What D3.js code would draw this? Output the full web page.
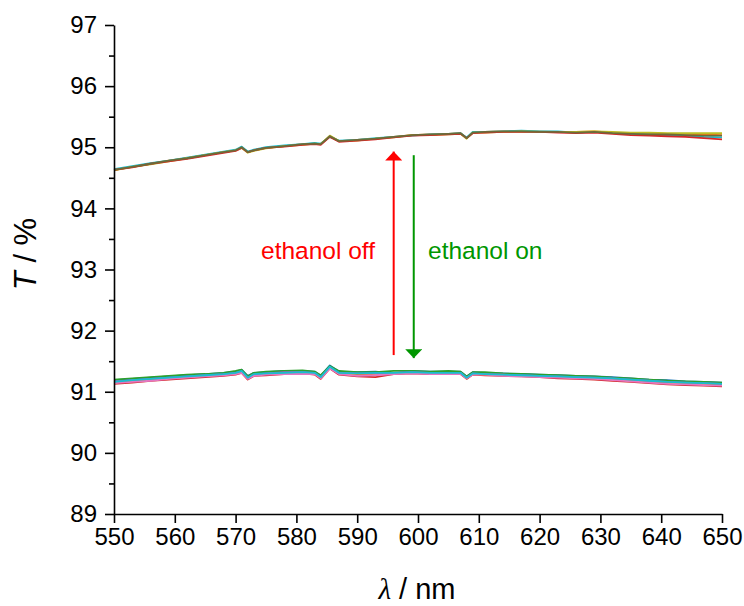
<!DOCTYPE html>
<html lang="en">
<head>
<meta charset="UTF-8">
<script src="https://d3js.org/d3.v7.min.js"></script>
<style>
  body { margin: 0; background: #fff; }
  svg { display: block; font-family: "Liberation Sans", Arial, sans-serif; }
</style>
</head>
<body>
<div id="chart"></div>
<script>
// wavelengths (nm)
const wl = [550,553,556,559,562,565,568,570,571,572,573,575,578,581,583,584,585.5,587,590,593,596,599,602,605,607,608,609,611,614,617,620,623,626,629,632,635,638,641,644,647,650];

// ethanol off (upper group), transmittance %
const up1 = [94.63,94.68,94.73,94.78,94.82,94.87,94.92,94.95,95.00,94.92,94.95,94.99,95.02,95.05,95.06,95.05,95.18,95.10,95.12,95.14,95.17,95.20,95.21,95.22,95.23,95.15,95.24,95.25,95.26,95.26,95.26,95.25,95.25,95.26,95.24,95.23,95.23,95.22,95.22,95.21,95.20];
const up2 = [94.64,94.69,94.74,94.78,94.83,94.88,94.93,94.96,95.01,94.93,94.96,95.00,95.03,95.05,95.07,95.06,95.17,95.11,95.12,95.15,95.17,95.19,95.21,95.22,95.23,95.16,95.25,95.25,95.26,95.27,95.26,95.26,95.24,95.25,95.23,95.22,95.21,95.20,95.19,95.17,95.16];
const up3 = [94.62,94.68,94.72,94.77,94.82,94.87,94.92,94.95,94.99,94.91,94.94,94.98,95.02,95.04,95.06,95.05,95.19,95.10,95.11,95.14,95.16,95.20,95.20,95.21,95.22,95.14,95.24,95.24,95.25,95.26,95.25,95.25,95.25,95.26,95.25,95.24,95.24,95.23,95.23,95.23,95.23];
const up4 = [94.63,94.67,94.73,94.77,94.81,94.86,94.91,94.94,94.99,94.92,94.95,94.99,95.01,95.04,95.05,95.04,95.17,95.09,95.11,95.13,95.16,95.19,95.20,95.21,95.22,95.15,95.23,95.24,95.25,95.25,95.25,95.24,95.23,95.24,95.22,95.20,95.19,95.18,95.17,95.15,95.13];
const up5 = [94.63,94.68,94.73,94.78,94.82,94.87,94.92,94.95,95.00,94.92,94.95,94.99,95.02,95.05,95.06,95.05,95.18,95.10,95.12,95.14,95.17,95.20,95.21,95.22,95.23,95.15,95.24,95.25,95.26,95.26,95.25,95.25,95.24,95.25,95.23,95.22,95.21,95.21,95.20,95.19,95.19];

// ethanol on (lower group)
const lo1 = [91.13,91.15,91.18,91.20,91.22,91.24,91.26,91.28,91.31,91.20,91.26,91.27,91.29,91.30,91.28,91.21,91.38,91.28,91.25,91.24,91.29,91.30,91.29,91.29,91.29,91.21,91.28,91.27,91.26,91.25,91.24,91.22,91.21,91.20,91.18,91.16,91.14,91.12,91.11,91.10,91.09];
const lo2 = [91.19,91.21,91.23,91.25,91.27,91.29,91.31,91.33,91.36,91.26,91.31,91.32,91.34,91.34,91.33,91.26,91.43,91.33,91.32,91.33,91.30,91.34,91.33,91.33,91.33,91.25,91.32,91.31,91.30,91.29,91.28,91.27,91.26,91.25,91.24,91.22,91.20,91.19,91.17,91.16,91.15];
const lo3 = [91.20,91.22,91.24,91.26,91.28,91.29,91.31,91.34,91.36,91.25,91.31,91.33,91.34,91.35,91.33,91.27,91.42,91.34,91.32,91.32,91.34,91.34,91.33,91.34,91.33,91.25,91.32,91.32,91.30,91.29,91.28,91.27,91.26,91.25,91.23,91.22,91.20,91.18,91.17,91.16,91.15];
const lo4 = [91.15,91.18,91.20,91.22,91.24,91.26,91.28,91.30,91.33,91.22,91.28,91.29,91.31,91.31,91.30,91.23,91.40,91.30,91.29,91.27,91.31,91.31,91.31,91.30,91.31,91.22,91.29,91.28,91.28,91.26,91.25,91.24,91.23,91.22,91.21,91.19,91.17,91.15,91.14,91.13,91.12];
const lo5 = [91.17,91.19,91.21,91.23,91.25,91.27,91.29,91.31,91.33,91.23,91.28,91.30,91.32,91.32,91.31,91.24,91.40,91.31,91.30,91.30,91.31,91.32,91.31,91.31,91.31,91.23,91.30,91.29,91.28,91.27,91.26,91.25,91.24,91.23,91.22,91.20,91.18,91.16,91.15,91.14,91.13];
const lo6 = [91.14,91.16,91.18,91.21,91.23,91.25,91.27,91.29,91.31,91.21,91.26,91.28,91.29,91.29,91.29,91.22,91.38,91.29,91.26,91.27,91.29,91.30,91.29,91.29,91.29,91.22,91.28,91.28,91.26,91.25,91.24,91.23,91.22,91.21,91.19,91.17,91.15,91.13,91.12,91.11,91.10];
const lo7 = [91.16,91.19,91.21,91.23,91.25,91.27,91.29,91.31,91.34,91.23,91.29,91.30,91.31,91.32,91.31,91.24,91.41,91.31,91.30,91.31,91.31,91.32,91.31,91.31,91.31,91.23,91.30,91.29,91.28,91.27,91.26,91.25,91.24,91.23,91.22,91.20,91.18,91.16,91.15,91.14,91.13];

const lowerSeries = [lo1, lo2, lo3, lo4, lo5, lo6, lo7];
const upperSeries = [up1, up2, up3, up4, up5];

const xTicks = [550,560,570,580,590,600,610,620,630,640,650];
const yTicks = [89,90,91,92,93,94,95,96,97];
const yMinor = [89.5,90.5,91.5,92.5,93.5,94.5,95.5,96.5];

// arrows: wavelength, start T, end T
const arrowX = [596, 599.3];
const arrowFrom = [91.6, 94.87];
const arrowTo = [94.93, 91.55];
const arrowColors = ["#ff0000", "#009600"];

const lowerColors = ["#d62728","#1f77b4","#2ca02c","#ff7f0e","#9467bd","#e377c2","#17becf"];
const upperColors = ["#ff7f0e","#17becf","#bcbd22","#d62728","#6b6b3a"];

const W = 744, H = 606;
const margin = { top: 25, right: 22, bottom: 92, left: 114 };

const svg = d3.select("#chart").append("svg")
  .attr("width", W)
  .attr("height", H);

const x = d3.scaleLinear().domain([550, 650]).range([margin.left, W - margin.right]);
const y = d3.scaleLinear().domain([89, 97]).range([H - margin.bottom, margin.top]);

const line = d3.line()
  .x((d, i) => x(wl[i]))
  .y(d => y(d));

// spectra
const plot = svg.append("g");
lowerSeries.forEach((s, i) => {
  plot.append("path")
    .attr("d", line(s))
    .attr("fill", "none")
    .attr("stroke", lowerColors[i])
    .attr("stroke-width", 1.8)
    .attr("stroke-linejoin", "round");
});
upperSeries.forEach((s, i) => {
  plot.append("path")
    .attr("d", line(s))
    .attr("fill", "none")
    .attr("stroke", upperColors[i])
    .attr("stroke-width", 1.8)
    .attr("stroke-linejoin", "round");
});

// axes
svg.append("g")
  .attr("transform", "translate(0," + (H - margin.bottom) + ")")
  .call(d3.axisBottom(x).tickValues(xTicks).tickSize(9).tickSizeOuter(0).tickPadding(5));

svg.append("g")
  .attr("transform", "translate(" + margin.left + ",0)")
  .call(d3.axisLeft(y).tickValues(yTicks).tickSize(9).tickSizeOuter(0).tickPadding(8));

svg.append("g")
  .attr("transform", "translate(" + margin.left + ",0)")
  .call(d3.axisLeft(y).tickValues(yMinor).tickSize(5).tickFormat(""))
  .select(".domain").remove();

svg.selectAll(".domain, .tick line")
  .attr("stroke", "#000")
  .attr("stroke-width", 1.6);

svg.selectAll(".tick text")
  .attr("fill", "#000")
  .style("font-size", "24px")
  .style("font-family", "'Liberation Sans', Arial, sans-serif");

// axis titles
const yTitle = svg.append("text")
  .attr("transform", "translate(36,254) rotate(-90)")
  .attr("text-anchor", "middle")
  .style("font-size", "31px");
yTitle.append("tspan").style("font-style", "italic").text("T");
yTitle.append("tspan").text(" / %");

const xTitle = svg.append("text")
  .attr("x", 417)
  .attr("y", 599)
  .attr("text-anchor", "middle")
  .style("font-size", "29px");
xTitle.append("tspan")
  .style("font-style", "italic")
  .style("font-family", "'Liberation Serif', 'Times New Roman', serif")
  .text("λ");
xTitle.append("tspan").text(" / nm");

// arrows
const defs = svg.append("defs");
arrowColors.forEach((c, i) => {
  defs.append("marker")
    .attr("id", "head" + i)
    .attr("viewBox", "0 0 10 10")
    .attr("refX", 10)
    .attr("refY", 5)
    .attr("markerUnits", "userSpaceOnUse")
    .attr("markerWidth", 9)
    .attr("markerHeight", 17)
    .attr("orient", "auto")
    .attr("preserveAspectRatio", "none")
    .append("path")
    .attr("d", "M0,0 L10,5 L0,10 Z")
    .attr("fill", c);
});

arrowX.forEach((ax, i) => {
  svg.append("line")
    .attr("x1", x(ax))
    .attr("x2", x(ax))
    .attr("y1", y(arrowFrom[i]))
    .attr("y2", y(arrowTo[i]))
    .attr("stroke", arrowColors[i])
    .attr("stroke-width", 2)
    .attr("marker-end", "url(#head" + i + ")");
});

// annotations
svg.append("text")
  .attr("x", 261)
  .attr("y", 259)
  .attr("fill", "#ff0000")
  .style("font-size", "24.5px")
  .text("ethanol off");

svg.append("text")
  .attr("x", 428)
  .attr("y", 259)
  .attr("fill", "#009600")
  .style("font-size", "24.5px")
  .text("ethanol on");
</script>
</body>
</html>
